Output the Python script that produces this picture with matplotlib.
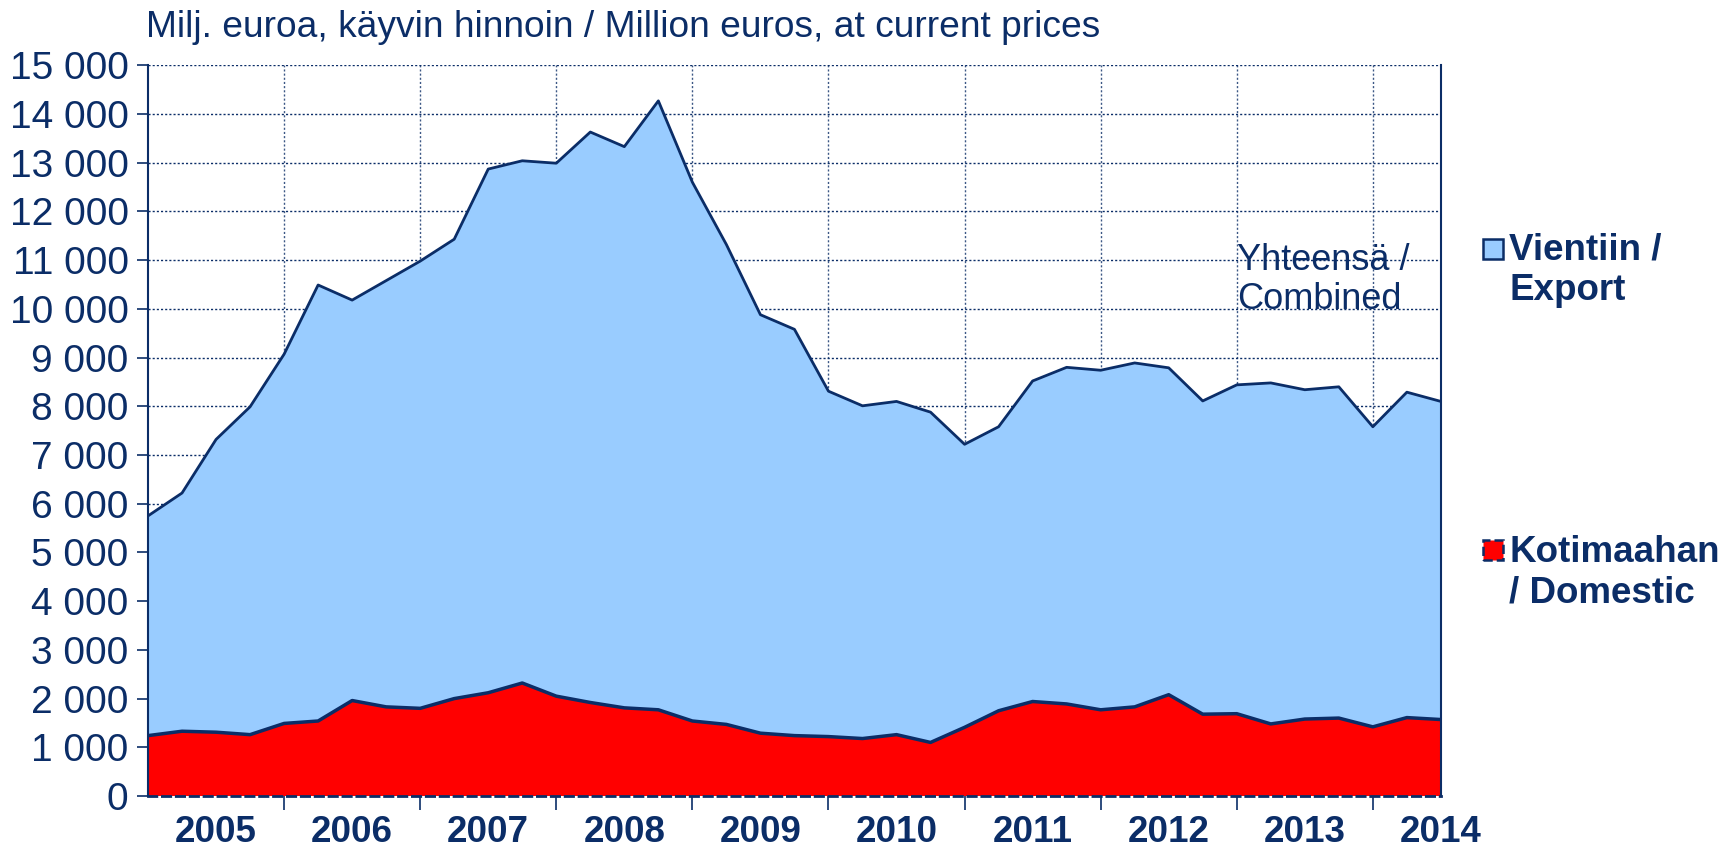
import numpy as np
import matplotlib.pyplot as plt
from matplotlib.patches import Rectangle

plt.rcParams['font.family'] = ['Liberation Sans', 'DejaVu Sans']

# Quarterly values, 2005Q1 .. 2014Q3 (million euros)
combined = [5750, 6220, 7320, 7990, 9070, 10490, 10180, 10580, 10980, 11430,
            12870, 13040, 12990, 13630, 13330, 14270, 12600, 11320, 9880, 9580,
            8310, 8010, 8100, 7880, 7220, 7580, 8520, 8800, 8740, 8890,
            8790, 8110, 8440, 8480, 8340, 8400, 7580, 8290, 8100]
domestic = [1240, 1330, 1310, 1260, 1490, 1540, 1960, 1830, 1800, 2000,
            2120, 2320, 2050, 1920, 1810, 1770, 1540, 1470, 1290, 1240,
            1220, 1180, 1260, 1100, 1410, 1750, 1940, 1890, 1770, 1830,
            2080, 1680, 1690, 1480, 1580, 1600, 1420, 1610, 1570]
years = ['2005', '2006', '2007', '2008', '2009', '2010', '2011', '2012', '2013', '2014']
yticks = list(range(0, 15001, 1000))

navy = '#0B2D67'
light_blue = '#99CCFF'
red = '#FF0000'

x = np.arange(len(combined))

fig = plt.figure(figsize=(17.25, 8.48), dpi=100)
ax = fig.add_axes([0.0858, 0.0613, 0.7495, 0.8617])

ax.fill_between(x, domestic, combined, facecolor=light_blue, edgecolor='none', zorder=2)
ax.plot(x, combined, color=navy, lw=2, zorder=3)
ax.fill_between(x, 0, domestic, facecolor=red, edgecolor='none', zorder=2)
ax.plot(x, domestic, color=navy, lw=2.5, zorder=3)

ax.set_xlim(0, len(combined) - 1)
ax.set_ylim(0, 15000)

# grid
for v in yticks[1:]:
    ax.axhline(v, color=navy, lw=1, ls=(0, (1.5, 1.5)), zorder=1)
for k in range(4, len(combined), 4):
    ax.axvline(k, color=navy, lw=1, ls=(0, (1.5, 1.5)), alpha=0.8, zorder=1)

ax.set_yticks(yticks)
ax.set_yticklabels(['{:,}'.format(v).replace(',', ' ') for v in yticks])
ax.tick_params(axis='y', colors=navy, labelsize=28, length=8, width=1.2, pad=6,
               labelcolor=navy)

ax.set_xticks(range(4, len(combined), 4))
ax.set_xticklabels([])
ax.tick_params(axis='x', colors=navy, length=10, width=1.2)
for i, yr in enumerate(years):
    ax.text(2 + 4 * i, -740, yr, ha='center', va='center', fontsize=26.5,
            fontweight='bold', color=navy, clip_on=False)

for s in ['left', 'right']:
    ax.spines[s].set_color(navy)
    ax.spines[s].set_linewidth(1.5)
ax.spines['top'].set_visible(False)
ax.spines['bottom'].set_color(navy)
ax.spines['bottom'].set_linestyle((0, (3, 2)))
ax.spines['bottom'].set_linewidth(2)
ax.spines['bottom'].set_zorder(4)

fig.text(0.0846, 0.968, 'Milj. euroa, käyvin hinnoin / Million euros, at current prices',
         ha='left', va='center', fontsize=26.7, color=navy)

ax.text(32.0, 10600, 'Yhteensä /\nCombined', ha='left', va='center', fontsize=26,
        color=navy, linespacing=1.15, zorder=5)

# legend
fig.patches.append(Rectangle((0.8597, 0.695), 0.0116, 0.023, transform=fig.transFigure,
                             facecolor=light_blue, edgecolor=navy, lw=1.8))
fig.text(0.875, 0.681, 'Vientiin /\nExport', ha='left', va='center', fontsize=26.5,
         fontweight='bold', color=navy, linespacing=1.2)
fig.patches.append(Rectangle((0.8597, 0.340), 0.0116, 0.023, transform=fig.transFigure,
                             facecolor=red, edgecolor=navy, lw=1.8, ls='--'))
fig.text(0.875, 0.325, 'Kotimaahan\n/ Domestic', ha='left', va='center', fontsize=26.5,
         fontweight='bold', color=navy, linespacing=1.2)

fig.savefig('out.png', dpi=100)
